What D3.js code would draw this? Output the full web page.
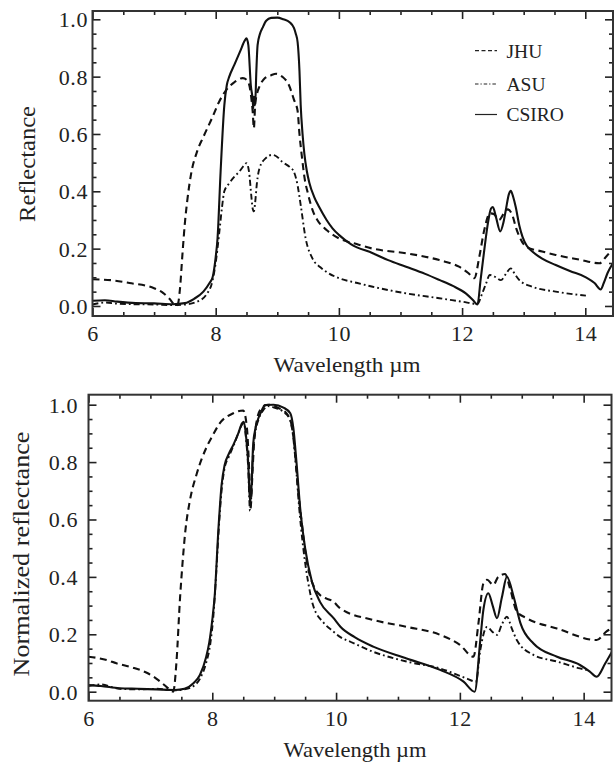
<!DOCTYPE html>
<html>
<head>
<meta charset="utf-8">
<script src="https://cdn.jsdelivr.net/npm/d3@7"></script>
<style>
  html, body { margin: 0; padding: 0; background: #fff; }
  svg { display: block; }
  svg text { font-family: "Liberation Serif", "Times New Roman", Times, "Nimbus Roman", serif; fill: #222; }
</style>
</head>
<body>
<svg id="chart" width="614" height="763"></svg>
<script>
// Wavelength (µm) / reflectance samples per lab, absolute panel
const jhuAbs = [[6.0,0.093],[6.3,0.09],[6.6,0.08],[7.0,0.062],[7.15,0.045],[7.25,0.025],[7.33,0.005],[7.38,0.003],[7.42,0.06],[7.46,0.18],[7.5,0.29],[7.54,0.37],[7.6,0.46],[7.7,0.54],[7.8,0.59],[7.95,0.66],[8.05,0.71],[8.17,0.753],[8.3,0.78],[8.44,0.795],[8.52,0.785],[8.57,0.74],[8.6,0.68],[8.62,0.62],[8.64,0.70],[8.67,0.74],[8.71,0.765],[8.8,0.795],[8.9,0.805],[8.98,0.81],[9.08,0.80],[9.19,0.77],[9.27,0.72],[9.33,0.68],[9.36,0.60],[9.4,0.52],[9.44,0.45],[9.5,0.39],[9.58,0.33],[9.65,0.30],[9.8,0.265],[10.0,0.236],[10.3,0.215],[10.55,0.20],[11.09,0.184],[11.63,0.16],[11.95,0.137],[12.1,0.115],[12.2,0.097],[12.28,0.172],[12.36,0.265],[12.45,0.323],[12.52,0.32],[12.6,0.30],[12.67,0.32],[12.74,0.337],[12.81,0.32],[12.88,0.27],[12.93,0.242],[13.04,0.207],[13.3,0.19],[13.52,0.178],[13.9,0.162],[14.23,0.149],[14.33,0.17],[14.45,0.2]];
const asuAbs = [[6.0,0.005],[6.2,0.012],[6.4,0.008],[6.7,0.006],[7.0,0.005],[7.3,0.003],[7.5,0.005],[7.7,0.015],[7.85,0.04],[7.95,0.09],[8.0,0.15],[8.06,0.26],[8.1,0.34],[8.14,0.40],[8.22,0.428],[8.3,0.45],[8.38,0.468],[8.46,0.49],[8.5,0.498],[8.54,0.47],[8.58,0.38],[8.6,0.34],[8.62,0.33],[8.64,0.36],[8.67,0.43],[8.71,0.48],[8.81,0.515],[8.92,0.527],[9.0,0.52],[9.08,0.503],[9.2,0.485],[9.27,0.468],[9.33,0.42],[9.38,0.352],[9.46,0.236],[9.57,0.166],[9.7,0.135],[9.79,0.12],[10.0,0.097],[10.3,0.08],[10.55,0.067],[11.09,0.044],[11.63,0.027],[12.0,0.015],[12.25,0.007],[12.32,0.04],[12.39,0.079],[12.45,0.108],[12.55,0.10],[12.63,0.09],[12.72,0.115],[12.79,0.131],[12.86,0.11],[12.93,0.09],[13.14,0.067],[13.52,0.05],[14.01,0.036]];
const csiroAbs = [[6.0,0.018],[6.2,0.02],[6.4,0.015],[6.7,0.01],[7.0,0.009],[7.3,0.006],[7.5,0.01],[7.65,0.025],[7.8,0.05],[7.9,0.08],[7.95,0.1],[8.0,0.17],[8.03,0.236],[8.08,0.47],[8.14,0.70],[8.18,0.77],[8.22,0.80],[8.3,0.84],[8.4,0.89],[8.47,0.925],[8.5,0.934],[8.53,0.91],[8.57,0.77],[8.6,0.72],[8.61,0.69],[8.62,0.73],[8.64,0.70],[8.66,0.82],[8.68,0.91],[8.72,0.95],[8.76,0.97],[8.82,0.995],[8.9,1.005],[9.0,1.006],[9.1,1.0],[9.2,0.99],[9.27,0.97],[9.3,0.95],[9.33,0.92],[9.36,0.82],[9.38,0.70],[9.41,0.60],[9.44,0.53],[9.48,0.47],[9.52,0.43],[9.6,0.38],[9.68,0.345],[9.8,0.30],[9.9,0.27],[10.0,0.248],[10.2,0.215],[10.55,0.184],[10.8,0.16],[11.09,0.137],[11.4,0.112],[11.63,0.091],[11.85,0.07],[12.06,0.044],[12.18,0.02],[12.25,0.005],[12.3,0.09],[12.36,0.195],[12.42,0.29],[12.47,0.34],[12.5,0.345],[12.55,0.31],[12.62,0.26],[12.67,0.29],[12.71,0.335],[12.76,0.39],[12.79,0.402],[12.83,0.38],[12.87,0.346],[12.93,0.28],[12.98,0.242],[13.05,0.21],[13.14,0.19],[13.3,0.165],[13.52,0.143],[13.75,0.122],[14.01,0.10],[14.15,0.08],[14.25,0.058],[14.3,0.08],[14.36,0.114],[14.45,0.15]];

// Same spectra normalized to their maxima
const jhuNorm = [[6.0,0.122],[6.3,0.11],[6.45,0.099],[6.7,0.085],[6.95,0.065],[7.1,0.045],[7.26,0.017],[7.37,0.0],[7.42,0.1],[7.48,0.33],[7.52,0.45],[7.56,0.55],[7.64,0.668],[7.75,0.76],[7.91,0.853],[8.0,0.89],[8.12,0.935],[8.34,0.97],[8.5,0.98],[8.56,0.918],[8.6,0.75],[8.62,0.64],[8.64,0.72],[8.68,0.88],[8.77,0.98],[8.9,1.0],[9.05,0.99],[9.2,0.97],[9.28,0.93],[9.33,0.85],[9.38,0.72],[9.45,0.58],[9.53,0.45],[9.63,0.372],[9.74,0.337],[9.96,0.313],[10.07,0.29],[10.6,0.25],[11.14,0.226],[11.68,0.198],[12.0,0.163],[12.22,0.122],[12.3,0.238],[12.38,0.377],[12.44,0.39],[12.54,0.372],[12.62,0.40],[12.73,0.41],[12.81,0.36],[12.92,0.279],[13.08,0.256],[13.57,0.22],[14.21,0.18],[14.37,0.21],[14.45,0.22]];
const asuNorm = [[6.0,0.02],[6.2,0.025],[6.5,0.01],[6.8,0.008],[7.1,0.01],[7.4,0.005],[7.55,0.008],[7.7,0.02],[7.8,0.045],[7.9,0.1],[7.97,0.17],[8.02,0.27],[8.06,0.4],[8.1,0.55],[8.15,0.70],[8.2,0.78],[8.27,0.82],[8.34,0.855],[8.42,0.9],[8.48,0.93],[8.51,0.935],[8.55,0.87],[8.58,0.78],[8.61,0.63],[8.63,0.68],[8.66,0.84],[8.7,0.91],[8.75,0.95],[8.82,0.98],[8.9,0.995],[9.0,0.99],[9.15,0.975],[9.25,0.95],[9.3,0.9],[9.35,0.79],[9.4,0.65],[9.47,0.5],[9.55,0.38],[9.63,0.3],[9.8,0.24],[9.96,0.209],[10.07,0.19],[10.23,0.174],[10.6,0.139],[11.14,0.105],[11.68,0.081],[12.1,0.047],[12.26,0.035],[12.33,0.145],[12.44,0.226],[12.52,0.21],[12.6,0.198],[12.68,0.235],[12.76,0.261],[12.84,0.22],[12.92,0.18],[13.19,0.128],[13.57,0.105],[13.94,0.081],[14.05,0.075]];
const csiroNorm = [[6.0,0.023],[6.2,0.02],[6.5,0.012],[6.8,0.01],[7.1,0.008],[7.4,0.006],[7.55,0.01],[7.7,0.03],[7.8,0.058],[7.9,0.12],[7.95,0.17],[8.0,0.25],[8.04,0.337],[8.1,0.57],[8.15,0.72],[8.2,0.79],[8.27,0.83],[8.34,0.86],[8.42,0.9],[8.48,0.935],[8.51,0.94],[8.55,0.88],[8.58,0.80],[8.61,0.66],[8.63,0.70],[8.66,0.86],[8.7,0.92],[8.74,0.95],[8.8,0.98],[8.85,0.999],[8.99,1.0],[9.15,0.99],[9.26,0.97],[9.31,0.918],[9.36,0.80],[9.42,0.64],[9.5,0.50],[9.61,0.383],[9.74,0.313],[9.96,0.256],[10.07,0.226],[10.3,0.19],[10.6,0.157],[11.14,0.116],[11.68,0.076],[12.06,0.035],[12.24,0.0],[12.33,0.18],[12.38,0.285],[12.46,0.343],[12.53,0.30],[12.6,0.256],[12.68,0.33],[12.76,0.40],[12.87,0.33],[12.98,0.238],[13.19,0.168],[13.57,0.122],[13.94,0.093],[14.1,0.07],[14.21,0.052],[14.35,0.099],[14.46,0.14]];

const seriesNames = ["JHU", "ASU", "CSIRO"];
const xTickValues = [6, 8, 10, 12, 14];
const yTickValues = [0, 0.2, 0.4, 0.6, 0.8, 1.0];
const xAxisTitle = "Wavelength \u00b5m";
const yTitles = ["Reflectance", "Normalized reflectance"];

const dashFor = {
  JHU: "7,4.5",
  ASU: "6,3,1.8,3",
  CSIRO: null
};
const widthFor = { JHU: 2.1, ASU: 1.9, CSIRO: 2.1 };

const svg = d3.select("#chart");

const panels = [
  {
    data: [jhuAbs, asuAbs, csiroAbs],
    x: [92.5, 613], y: [316, 11],
    yDomain: [-0.035, 1.029],
    yTitle: yTitles[0], yTitlePos: [27, 164], yTitleLen: 116,
    yLabelX: 88, xLabelY: 341, xTitleY: 372, xTitleX: 347, xTitleLen: 147,
    legend: true, id: "a"
  },
  {
    data: [jhuNorm, asuNorm, csiroNorm],
    x: [88.5, 611.5], y: [700.7, 394.7],
    yDomain: [-0.0314, 1.0348],
    yTitle: yTitles[1], yTitlePos: [21, 554], yTitleLen: 245,
    yLabelX: 78, xLabelY: 726, xTitleY: 757, xTitleX: 355, xTitleLen: 143,
    legend: false, id: "b"
  }
];

panels.forEach(p => {
  const x = d3.scaleLinear().domain([6, 14.45]).range(p.x);
  const y = d3.scaleLinear().domain(p.yDomain).range(p.y);
  const g = svg.append("g");

  g.append("clipPath").attr("id", "clip-" + p.id)
    .append("rect")
    .attr("x", p.x[0]).attr("y", p.y[1])
    .attr("width", p.x[1] - p.x[0]).attr("height", p.y[0] - p.y[1]);

  // spectra
  const line = d3.line()
    .x(d => x(d[0])).y(d => y(d[1]))
    .curve(d3.curveMonotoneX);
  const plot = g.append("g").attr("clip-path", `url(#clip-${p.id})`);
  p.data.forEach((ser, i) => {
    const name = seriesNames[i];
    plot.append("path")
      .datum(ser)
      .attr("d", line)
      .attr("fill", "none")
      .attr("stroke", "#111")
      .attr("stroke-width", widthFor[name])
      .attr("stroke-linejoin", "round")
      .attr("stroke-dasharray", dashFor[name]);
  });

  // inward ticks on all four sides
  const xMajor = xTickValues;
  const xMinor = d3.range(6, 14.45, 0.5).filter(v => !xMajor.includes(v));
  const yMajor = yTickValues;
  const yMinor = d3.range(0, 1.001, 0.05).map(v => +v.toFixed(2)).filter(v => !yMajor.some(m => Math.abs(m - v) < 1e-6));

  const bottomMajor = d3.axisBottom(x).tickValues(xMajor).tickSize(-8).tickFormat(d3.format("d"));
  const bottomMinor = d3.axisBottom(x).tickValues(xMinor).tickSize(-4).tickFormat("");
  const topMajor = d3.axisTop(x).tickValues(xMajor).tickSize(-8).tickFormat("");
  const topMinor = d3.axisTop(x).tickValues(xMinor).tickSize(-4).tickFormat("");
  const leftMajor = d3.axisLeft(y).tickValues(yMajor).tickSize(-8).tickFormat(d3.format(".1f"));
  const leftMinor = d3.axisLeft(y).tickValues(yMinor).tickSize(-4).tickFormat("");
  const rightMajor = d3.axisRight(y).tickValues(yMajor).tickSize(-8).tickFormat("");
  const rightMinor = d3.axisRight(y).tickValues(yMinor).tickSize(-4).tickFormat("");

  const axes = [
    [bottomMajor, `translate(0,${p.y[0]})`, "bottom"],
    [bottomMinor, `translate(0,${p.y[0]})`, null],
    [topMajor, `translate(0,${p.y[1]})`, null],
    [topMinor, `translate(0,${p.y[1]})`, null],
    [leftMajor, `translate(${p.x[0]},0)`, "left"],
    [leftMinor, `translate(${p.x[0]},0)`, null],
    [rightMajor, `translate(${p.x[1]},0)`, null],
    [rightMinor, `translate(${p.x[1]},0)`, null]
  ];
  axes.forEach(([ax, tr, kind]) => {
    const a = g.append("g").attr("transform", tr).call(ax)
      .attr("font-family", null).attr("font-size", null);
    a.select(".domain").remove();
    a.selectAll(".tick line").attr("stroke", "#222").attr("stroke-width", 1.6);
    a.selectAll("text")
      .attr("font-size", 22)
      .attr("letter-spacing", "0.6px")
      .attr("fill", "#222");
    if (kind === "bottom") {
      a.selectAll("text").attr("dy", null).attr("y", p.xLabelY - p.y[0]);
    }
    if (kind === "left") {
      a.selectAll("text").attr("x", p.yLabelX - p.x[0]).attr("dy", "0.34em");
    }
  });

  // frame
  g.append("rect")
    .attr("x", p.x[0]).attr("y", p.y[1])
    .attr("width", p.x[1] - p.x[0]).attr("height", p.y[0] - p.y[1])
    .attr("fill", "none").attr("stroke", "#333").attr("stroke-width", 2);

  // axis titles
  g.append("text")
    .attr("x", p.xTitleX).attr("y", p.xTitleY)
    .attr("text-anchor", "middle")
    .attr("font-size", 22)
    .attr("textLength", p.xTitleLen)
    .attr("lengthAdjust", "spacingAndGlyphs")
    .text(xAxisTitle);

  g.append("text")
    .attr("transform", `translate(${p.yTitlePos[0]},${p.yTitlePos[1]}) rotate(-90)`)
    .attr("text-anchor", "middle")
    .attr("dy", "0.35em")
    .attr("font-size", 23)
    .attr("textLength", p.yTitleLen)
    .attr("lengthAdjust", "spacingAndGlyphs")
    .text(p.yTitle);

  if (p.legend) {
    const legendRows = [50.7, 84, 114.5];
    seriesNames.forEach((name, i) => {
      g.append("line")
        .attr("x1", 475).attr("x2", 497)
        .attr("y1", legendRows[i]).attr("y2", legendRows[i])
        .attr("stroke", "#222").attr("stroke-width", 1.2)
        .attr("stroke-dasharray", name === "JHU" ? "4,2.5" : name === "ASU" ? "3.5,2,1.2,2" : null);
      g.append("text")
        .attr("x", 506.5).attr("y", legendRows[i])
        .attr("dy", "0.35em")
        .attr("font-size", 19.5)
        .text(name);
    });
  }
});
</script>
</body>
</html>
